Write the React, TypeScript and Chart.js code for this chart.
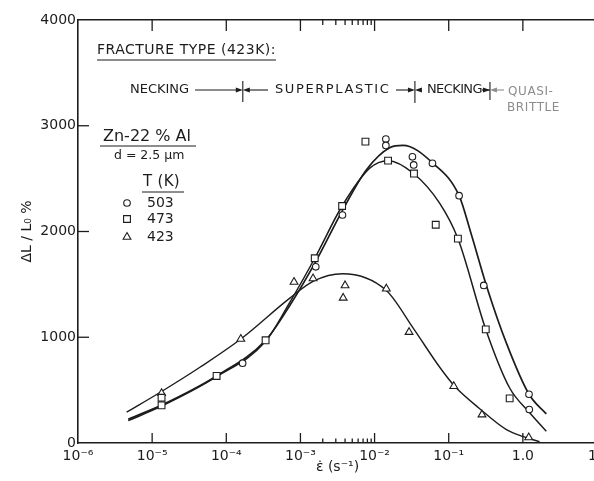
import React, { useEffect, useRef } from 'react';
import { Chart, registerables } from 'chart.js';

Chart.register(...registerables);

// ---------- axis ticks ----------
const xTickValues = [1e-6, 1e-5, 1e-4, 1e-3, 1e-2, 1e-1, 1, 10];
const xTickLabels = ['10⁻⁶', '10⁻⁵', '10⁻⁴', '10⁻³', '10⁻²', '10⁻¹', '1.0', '10'];
const xMinorTickValues = [2e-3, 3e-3, 4e-3, 5e-3, 6e-3, 7e-3, 8e-3, 9e-3];
const yTickValues = [0, 1000, 2000, 3000, 4000];

// ---------- measured points (strain rate s^-1, elongation %) ----------
const rate503 = [1.66e-4, 1.61e-3, 3.69e-3, 1.42e-2, 1.42e-2, 3.24e-2, 3.37e-2, 6.03e-2, 0.138, 0.297, 1.21, 1.22];
const elong503 = [755, 1666, 2156, 2874, 2814, 2706, 2630, 2645, 2339, 1490, 461, 317];

const rate473 = [1.34e-5, 1.34e-5, 7.4e-5, 3.39e-4, 1.56e-3, 3.65e-3, 7.53e-3, 1.52e-2, 3.4e-2, 6.68e-2, 0.133, 0.316, 0.664];
const elong473 = [428, 356, 634, 971, 1747, 2241, 2850, 2670, 2548, 2064, 1933, 1074, 422];

const rate423 = [1.34e-5, 1.57e-4, 8.2e-4, 1.48e-3, 4.0e-3, 3.77e-3, 1.44e-2, 2.92e-2, 0.117, 0.281, 1.2];
const elong423 = [470, 983, 1522, 1555, 1490, 1372, 1459, 1048, 536, 268, 52];

// ---------- fitted curves ----------
const curveRate503 = [4.76e-6, 1.34e-5, 7.4e-5, 3.39e-4, 7.19e-4, 1.6e-3, 3.65e-3, 7.78e-3, 1.6e-2, 2.42e-2, 6.14e-2, 0.138, 0.202, 0.322, 0.6, 1.21, 2.07];
const curveElong503 = [225, 358, 634, 971, 1300, 1712, 2193, 2584, 2792, 2814, 2645, 2339, 1971, 1490, 944, 461, 275];

const curveRate473 = [4.76e-6, 1.34e-5, 7.4e-5, 3.39e-4, 7.19e-4, 1.56e-3, 3.65e-3, 8.6e-3, 1.52e-2, 3.3e-2, 7.57e-2, 0.133, 0.316, 0.664, 1.22, 2.07];
const curveElong473 = [211, 348, 627, 961, 1330, 1747, 2241, 2599, 2670, 2553, 2266, 1933, 1074, 520, 291, 111];

const curveRate423 = [4.53e-6, 1.34e-5, 4.41e-5, 1.57e-4, 7.2e-4, 1.5e-3, 3.7e-3, 1.44e-2, 3.3e-2, 7.57e-2, 0.1205, 0.262, 0.6, 1.0, 1.68];
const curveElong423 = [291, 487, 716, 983, 1370, 1530, 1600, 1442, 1089, 716, 536, 324, 127, 62, 13];

// fracture-type regime boundaries at 423 K (strain rate)
const fractureBoundaries = [1.67e-4, 3.5e-2, 0.36];

// legend
const legendTemps = ['503', '473', '423'];
const legendStyles = ['circle', 'rect', 'triangle'];

const INK = '#1c1c1c';
const FAINT = '#8c8c8c';
const FONT = "'DejaVu Sans', sans-serif";

const pts = (xs: number[], ys: number[]) => xs.map((x, i) => ({ x, y: ys[i] }));

function drawMarker(ctx: CanvasRenderingContext2D, style: string, x: number, y: number) {
  ctx.beginPath();
  if (style === 'circle') {
    ctx.arc(x, y, 3.3, 0, Math.PI * 2);
  } else if (style === 'rect') {
    ctx.rect(x - 3.4, y - 3.4, 6.8, 6.8);
  } else {
    const r = 4.5;
    for (let k = 0; k < 3; k++) {
      const a = (k * 2 * Math.PI) / 3;
      const px = x + Math.sin(a) * r;
      const py = y - Math.cos(a) * r;
      if (k === 0) ctx.moveTo(px, py);
      else ctx.lineTo(px, py);
    }
    ctx.closePath();
  }
  ctx.fillStyle = '#fff';
  ctx.fill();
  ctx.stroke();
}

function arrowHead(ctx: CanvasRenderingContext2D, tipX: number, y: number, dir: number) {
  ctx.beginPath();
  ctx.moveTo(tipX, y);
  ctx.lineTo(tipX - dir * 7, y - 2.6);
  ctx.lineTo(tipX - dir * 7, y + 2.6);
  ctx.closePath();
  ctx.fill();
}

const annotations = {
  id: 'annotations',
  afterDraw(chart: any) {
    const ctx: CanvasRenderingContext2D = chart.ctx;
    const xs = chart.scales.x;
    const ys = chart.scales.y;
    const area = chart.chartArea;
    ctx.save();

    // inward tick marks
    ctx.strokeStyle = INK;
    ctx.lineWidth = 1.3;
    const seg = (x1: number, y1: number, x2: number, y2: number) => {
      ctx.beginPath();
      ctx.moveTo(x1, y1);
      ctx.lineTo(x2, y2);
      ctx.stroke();
    };
    xTickValues.forEach((v) => {
      const px = xs.getPixelForValue(v);
      if (px <= area.left + 1 || px >= area.right - 1) return;
      seg(px, area.bottom, px, area.bottom - 10);
      seg(px, area.top, px, area.top + 11);
    });
    xMinorTickValues.forEach((v) => {
      const px = xs.getPixelForValue(v);
      seg(px, area.bottom, px, area.bottom - 4.5);
      seg(px, area.top, px, area.top + 5);
    });
    yTickValues.forEach((v) => {
      if (v === 0 || v === 4000) return;
      const py = ys.getPixelForValue(v);
      seg(area.left, py, area.left + 11, py);
    });

    ctx.fillStyle = INK;
    ctx.textBaseline = 'middle';
    ctx.textAlign = 'left';

    // FRACTURE TYPE heading
    ctx.font = `14px ${FONT}`;
    (ctx as any).letterSpacing = '0.5px';
    ctx.fillText('FRACTURE TYPE (423K):', 97, 50);
    const fw = ctx.measureText('FRACTURE TYPE (423K):').width;
    ctx.lineWidth = 1.2;
    seg(97, 60, 97 + fw, 60);

    // regimes row
    const rowY = 90;
    const b = fractureBoundaries.map((v) => xs.getPixelForValue(v));
    ctx.font = `13px ${FONT}`;
    (ctx as any).letterSpacing = '0px';
    ctx.fillText('NECKING', 130, rowY);
    ctx.lineWidth = 1.1;
    seg(195, rowY, b[0] - 4, rowY);
    arrowHead(ctx, b[0], rowY, 1);
    seg(b[0], rowY - 9, b[0], rowY + 12);
    arrowHead(ctx, b[0], rowY, -1);
    seg(b[0] + 4, rowY, 268, rowY);
    (ctx as any).letterSpacing = '1.6px';
    ctx.fillText('SUPERPLASTIC', 275, rowY);
    (ctx as any).letterSpacing = '0px';
    seg(396, rowY, b[1] - 4, rowY);
    arrowHead(ctx, b[1], rowY, 1);
    seg(b[1], rowY - 9, b[1], rowY + 13);
    arrowHead(ctx, b[1], rowY, -1);
    (ctx as any).letterSpacing = '-0.6px';
    ctx.fillText('NECKING', 427, rowY);
    (ctx as any).letterSpacing = '0px';
    arrowHead(ctx, b[2], rowY, 1);
    seg(482, rowY, b[2], rowY);
    seg(b[2], rowY - 8, b[2], rowY + 10);
    ctx.fillStyle = FAINT;
    ctx.strokeStyle = FAINT;
    arrowHead(ctx, b[2], rowY, -1);
    seg(b[2] + 4, rowY, 504, rowY);
    ctx.font = `12px ${FONT}`;
    (ctx as any).letterSpacing = '0.6px';
    ctx.fillText('QUASI-', 508, 92);
    ctx.fillText('BRITTLE', 507, 108);
    (ctx as any).letterSpacing = '0px';
    ctx.fillStyle = INK;
    ctx.strokeStyle = INK;

    // alloy block
    ctx.font = `16px ${FONT}`;
    ctx.fillText('Zn-22 % Al', 103, 137);
    ctx.lineWidth = 1.2;
    seg(100, 146, 196, 146);
    ctx.font = `12.5px ${FONT}`;
    ctx.fillText('d = 2.5 μm', 114, 156);

    // legend
    ctx.font = `15px ${FONT}`;
    (ctx as any).letterSpacing = '0.3px';
    ctx.fillText('T (K)', 143, 182);
    (ctx as any).letterSpacing = '0px';
    seg(142, 192, 184, 192);
    ctx.font = `14px ${FONT}`;
    const rowsY = [203, 219, 237];
    legendTemps.forEach((t, i) => {
      ctx.lineWidth = 1.1;
      ctx.strokeStyle = INK;
      drawMarker(ctx, legendStyles[i], 127, rowsY[i]);
      ctx.fillStyle = INK;
      ctx.fillText(t, 147, rowsY[i]);
    });

    ctx.restore();
  },
};

export default function App() {
  const ref = useRef<HTMLCanvasElement>(null);
  useEffect(() => {
    document.body.style.margin = '0';
    Chart.defaults.font.family = FONT;
    Chart.defaults.color = INK;
    const pointBase = {
      type: 'scatter' as const,
      showLine: false,
      pointBorderColor: INK,
      pointBackgroundColor: '#ffffff',
      pointBorderWidth: 1.1,
    };
    const curveBase = {
      type: 'scatter' as const,
      showLine: true,
      pointRadius: 0,
      borderColor: INK,
      cubicInterpolationMode: 'monotone' as const,
      fill: false,
    };
    const chart = new Chart(ref.current!, {
      type: 'scatter',
      data: {
        datasets: [
          { ...pointBase, label: '503 K', data: pts(rate503, elong503), pointStyle: 'circle', pointRadius: 3.3 },
          { ...pointBase, label: '473 K', data: pts(rate473, elong473), pointStyle: 'rect', pointRadius: 4.8 },
          { ...pointBase, label: '423 K', data: pts(rate423, elong423), pointStyle: 'triangle', pointRadius: 4.5 },
          { ...curveBase, label: '503 K fit', data: pts(curveRate503, curveElong503), borderWidth: 1.7 },
          { ...curveBase, label: '473 K fit', data: pts(curveRate473, curveElong473), borderWidth: 1.5 },
          { ...curveBase, label: '423 K fit', data: pts(curveRate423, curveElong423), borderWidth: 1.4 },
        ],
      },
      options: {
        responsive: false,
        animation: false,
        devicePixelRatio: 1,
        layout: { padding: { left: 0, top: 0, right: 23, bottom: 0 } },
        plugins: { legend: { display: false }, tooltip: { enabled: false } },
        scales: {
          x: {
            type: 'logarithmic',
            position: 'bottom',
            min: 1e-6,
            max: 10,
            afterBuildTicks: (s: any) => {
              s.ticks = xTickValues.map((v) => ({ value: v }));
            },
            afterFit: (s: any) => {
              s.height = 38;
            },
            ticks: {
              autoSkip: false,
              maxRotation: 0,
              padding: 5,
              color: INK,
              font: { size: 14 },
              callback: (_v: any, i: number) => xTickLabels[i],
            },
            grid: { drawOnChartArea: false, drawTicks: false },
            border: { display: true, color: INK, width: 1.6 },
            title: {
              display: true,
              text: 'ε̇ (s⁻¹)',
              color: INK,
              font: { size: 14 },
              padding: { top: 0, bottom: 5 },
            },
          },
          x2: {
            type: 'logarithmic',
            position: 'top',
            display: true,
            min: 1e-6,
            max: 10,
            afterFit: (s: any) => {
              s.height = 20;
            },
            ticks: { display: false },
            grid: { drawOnChartArea: false, drawTicks: false },
            border: { display: true, color: INK, width: 1.6 },
          },
          y: {
            type: 'linear',
            min: 0,
            max: 4000,
            afterBuildTicks: (s: any) => {
              s.ticks = yTickValues.map((v) => ({ value: v }));
            },
            afterFit: (s: any) => {
              s.width = 78;
            },
            ticks: {
              padding: 2,
              color: INK,
              font: { size: 14 },
              callback: (v: any) => String(v),
            },
            grid: { drawOnChartArea: false, drawTicks: false },
            border: { display: true, color: INK, width: 1.6 },
            title: {
              display: true,
              text: 'ΔL / L₀ %',
              color: INK,
              font: { size: 14 },
              padding: { top: 19, bottom: 0 },
            },
          },
        },
      },
      plugins: [annotations],
    } as any);
    return () => chart.destroy();
  }, []);
  return (
    <div style={{ width: 594, height: 481, overflow: 'hidden', background: '#fff' }}>
      <canvas ref={ref} width={620} height={481} style={{ width: 620, height: 481, display: 'block' }} />
    </div>
  );
}
